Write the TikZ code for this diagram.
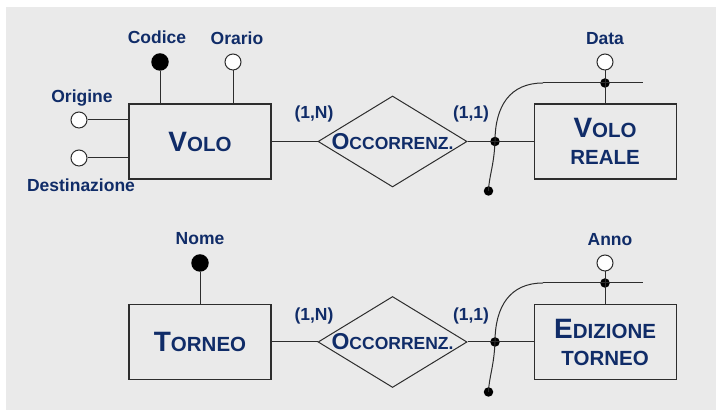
\documentclass[tikz,border=0pt]{standalone}
\usepackage{fontspec}
\setmainfont{Liberation Sans}
\usepackage{xcolor}
\usetikzlibrary{positioning,shapes.geometric}
\definecolor{erblue}{RGB}{16,44,104}
\definecolor{ergray}{RGB}{234,234,234}
\definecolor{erline}{RGB}{45,45,45}
\newcommand{\ercaps}[3]{{\fontsize{#1}{#1}\selectfont #2}#3}

\begin{document}
\begin{tikzpicture}[
  x=1pt,y=1pt,
  entity/.style={draw=erline,line width=1.1pt,fill=ergray,align=center,
                 minimum width=142pt,minimum height=75pt,text=erblue,
                 font=\bfseries\fontsize{20.5}{27}\selectfont},
  relship/.style={diamond,draw=erline,line width=1pt,fill=ergray,
                  minimum width=149pt,minimum height=91pt,inner sep=0pt},
  reltext/.style={text=erblue,font=\bfseries\fontsize{17.5}{20}\selectfont},
  key/.style={circle,fill=black,minimum size=17.5pt,inner sep=0pt},
  attr/.style={circle,draw=erline,line width=1pt,fill=white,
               minimum size=16pt,inner sep=0pt},
  dot/.style={circle,fill=black,minimum size=9.5pt,inner sep=0pt},
  lbl/.style={text=erblue,font=\bfseries\fontsize{17.5}{20}\selectfont,
              inner sep=0pt,text depth=0pt,label distance=9pt},
  card/.style={text=erblue,font=\bfseries\fontsize{17.5}{20}\selectfont},
  link/.style={draw=erline,line width=1pt}
]
\useasboundingbox (0,0) rectangle (716,411);
\fill[ergray] (6,1) rectangle (716,404);

% volo / volo reale
\node[entity] (volo) at (200,269.5) {\ercaps{28}{V}{OLO}};
\node[relship,right=46pt of volo,
      label={[reltext]center:\ercaps{23}{O}{CCORRENZ.}}] (occvolo) {};
\node[entity,right=66pt of occvolo] (volorea)
  {\ercaps{28}{V}{OLO}\\REALE};

\node[key,label={[lbl,xshift=-3pt]above:Codice}] (codice) at (160,349) {};
\node[attr,label={[lbl,xshift=4pt]above:Orario}] (orario) at (233,349) {};
\node[attr,label={[lbl,xshift=3pt]above:Origine}] (origine) at (79,291) {};
\node[attr,label={[lbl,xshift=2pt,label distance=12pt]below:Destinazione}]
  (destin) at (79,253) {};
\node[attr,label={[lbl]above:Data}] (data) at (605,349) {};

\node[card] (cardvn) at (314,297) {(1,N)};
\node[card] (cardv1) at (471,297) {(1,1)};

\coordinate (vida) at (543,328);
\coordinate (vidb) at (643,328);
\node[dot] (vidd) at (data |- vida) {};
\node[dot] (vidm) at (495,269.5) {};
\node[dot] (vide) at (488.5,220) {};

\draw[link] (volo) -- (occvolo) -- (volorea);
\draw[link] (codice) -- (codice |- volo.north);
\draw[link] (orario) -- (orario |- volo.north);
\draw[link] (origine) -- (origine -| volo.west);
\draw[link] (destin) -- (destin -| volo.west);
\draw[link] (data) -- (data |- volorea.north);
\draw[link] (vida) -- (vidb);
\draw[link] (vida) .. controls +(-33,0) and +(0,35.5) .. (vidm.center)
  .. controls +(-1,-24.5) and +(0.5,15) .. (vide.center);

% torneo / edizione torneo
\node[entity] (torneo) at (200,69) {\ercaps{28}{T}{ORNEO}};
\node[relship,right=46pt of torneo,
      label={[reltext]center:\ercaps{23}{O}{CCORRENZ.}}] (occtorn) {};
\node[entity,right=66pt of occtorn] (edizione)
  {\ercaps{28}{E}{DIZIONE}\\TORNEO};

\node[key,label={[lbl]above:Nome}] (nome) at (200,148) {};
\node[attr,label={[lbl,xshift=5pt]above:Anno}] (anno) at (605,148) {};

\node[card] (cardtn) at (314,95) {(1,N)};
\node[card] (cardt1) at (471,95) {(1,1)};

\coordinate (tida) at (543,128);
\coordinate (tidb) at (643,128);
\node[dot] (tidd) at (anno |- tida) {};
\node[dot] (tidm) at (495,69) {};
\node[dot] (tide) at (488.5,19) {};

\draw[link] (torneo) -- (occtorn) -- (edizione);
\draw[link] (nome) -- (nome |- torneo.north);
\draw[link] (anno) -- (anno |- edizione.north);
\draw[link] (tida) -- (tidb);
\draw[link] (tida) .. controls +(-33,0) and +(0,35.5) .. (tidm.center)
  .. controls +(-1,-24.5) and +(0.5,15) .. (tide.center);
\end{tikzpicture}
\end{document}
